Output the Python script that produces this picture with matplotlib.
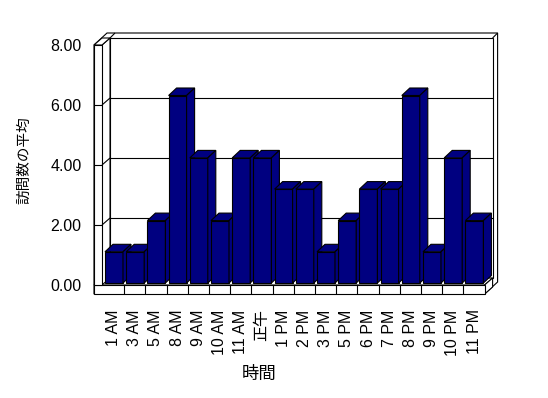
import numpy as np
import matplotlib
matplotlib.use("Agg")
import matplotlib.pyplot as plt

plt.rcParams['font.family'] = ['Liberation Sans', 'Noto Sans CJK JP', 'DejaVu Sans']

# data
hours = ['1 AM', '3 AM', '5 AM', '8 AM', '9 AM', '10 AM', '11 AM', '正午',
         '1 PM', '2 PM', '3 PM', '5 PM', '6 PM', '7 PM', '8 PM', '9 PM',
         '10 PM', '11 PM']
avg_visits = [1.04, 1.04, 2.08, 6.25, 4.17, 2.08, 4.17, 4.17, 3.13, 3.13,
              1.04, 2.08, 3.13, 3.13, 6.25, 1.04, 4.17, 2.08]
y_ticks = [0, 2, 4, 6, 8]

NAVY = '#000080'
LW = 0.8
W, H = 548, 398

# front plane scale in pixels
CAT_PX = 21.2
UNIT_PX = 30.0
X0_PX, Y0_PX = 103, 285

def px(dx, dy):
    return dx / CAT_PX, dy / UNIT_PX

n = len(hours)
ymax = y_ticks[-1]

fig = plt.figure(figsize=(W / 100, H / 100), dpi=100)
left, right, top, bottom = 94, 500, 33, 294
ax = fig.add_axes([left / W, 1 - bottom / H, (right - left) / W, (bottom - top) / H])
ax.set_xlim((left - X0_PX) / CAT_PX, (right - X0_PX) / CAT_PX)
ax.set_ylim((Y0_PX - bottom) / UNIT_PX, (Y0_PX - top) / UNIT_PX)
for s in ax.spines.values():
    s.set_visible(False)

DX, DY = px(8, 7)        # depth of floor / side wall
TX, TY = px(5, 5)        # thickness of back wall
xa, xb = px(-9, 0)[0], px(-1, 0)[0]
FT = px(0, 9)[1]         # floor slab thickness

def poly(pts, z, fc='white'):
    xs, ys = zip(*pts)
    ax.fill(xs, ys, facecolor=fc, edgecolor='black', linewidth=LW, zorder=z,
            clip_on=False, joinstyle='miter')

def line(p, q, z=1.5):
    ax.plot([p[0], q[0]], [p[1], q[1]], color='black', lw=LW, zorder=z,
            clip_on=False, solid_capstyle='butt')

# outer silhouette of the walls
poly([(xa, -FT), (n, -FT), (n + DX + TX, -FT + DY + TY),
      (n + DX + TX, ymax + DY + TY), (xa + DX + TX, ymax + DY + TY), (xa, ymax)], 0.5)
# back wall
poly([(xb + DX, DY), (n + DX, DY), (n + DX, ymax + DY), (xb + DX, ymax + DY)], 1)
line((n + DX, ymax + DY), (n + DX + TX, ymax + DY + TY))
line((xb + DX, ymax + DY), (xb + DX + TX, ymax + DY + TY))
# floor slab
poly([(xa, 0), (n, 0), (n + DX, DY), (xa + DX, DY)], 1)
poly([(n, 0), (n, -FT), (n + DX, -FT + DY), (n + DX, DY)], 1)
poly([(xa, -FT), (n, -FT), (n, 0), (xa, 0)], 1)
for i in range(1, n):
    line((i, -FT), (i, 0), 1.6)
# left wall slab
poly([(xb, 0), (xb, ymax), (xb + DX, ymax + DY), (xb + DX, DY)], 1.2)
poly([(xa, ymax), (xb, ymax), (xb + DX, ymax + DY), (xa + DX, ymax + DY)], 1.2)
poly([(xa, 0), (xb, 0), (xb, ymax), (xa, ymax)], 1.2)

# gridlines on walls
for v in y_ticks[1:-1]:
    line((xb + DX, v + DY), (n + DX, v + DY))
    line((xb, v), (xb + DX, v + DY))
    line((xa, v), (xb, v))

# bars
BOX, BOY = px(2, 2)      # bar front set back from floor edge
BDX, BDY = px(8, 7.5)    # bar depth
bw = 18 / CAT_PX
for i, v in enumerate(avg_visits):
    z = 3 + i * 0.01
    xl = i + BOX
    yb = BOY
    ax.bar(xl, v, width=bw, bottom=yb, align='edge', color=NAVY,
           edgecolor='black', linewidth=LW, zorder=z)
    poly([(xl, yb + v), (xl + bw, yb + v), (xl + bw + BDX, yb + v + BDY),
          (xl + BDX, yb + v + BDY)], z, NAVY)
    poly([(xl + bw, yb), (xl + bw, yb + v), (xl + bw + BDX, yb + v + BDY),
          (xl + bw + BDX, yb + BDY)], z, NAVY)

ax.set_yticks(y_ticks, [f'{v:.2f}' for v in y_ticks])
ax.set_xticks(np.arange(n) + 0.5, hours, rotation=90)
ax.tick_params(axis='y', length=0, pad=9, labelsize=11.5)
ax.tick_params(axis='x', length=0, pad=11, labelsize=11.5)

ax.set_ylabel('訪問数の平均', fontsize=10.5)
ax.yaxis.set_label_coords((31 - left) / (right - left), (bottom - 160) / (bottom - top))
ax.set_xlabel('時間', fontsize=12.5)
ax.xaxis.set_label_coords((259 - left) / (right - left), (bottom - 366) / (bottom - top))

fig.savefig('out.png', dpi=100, facecolor='white')
